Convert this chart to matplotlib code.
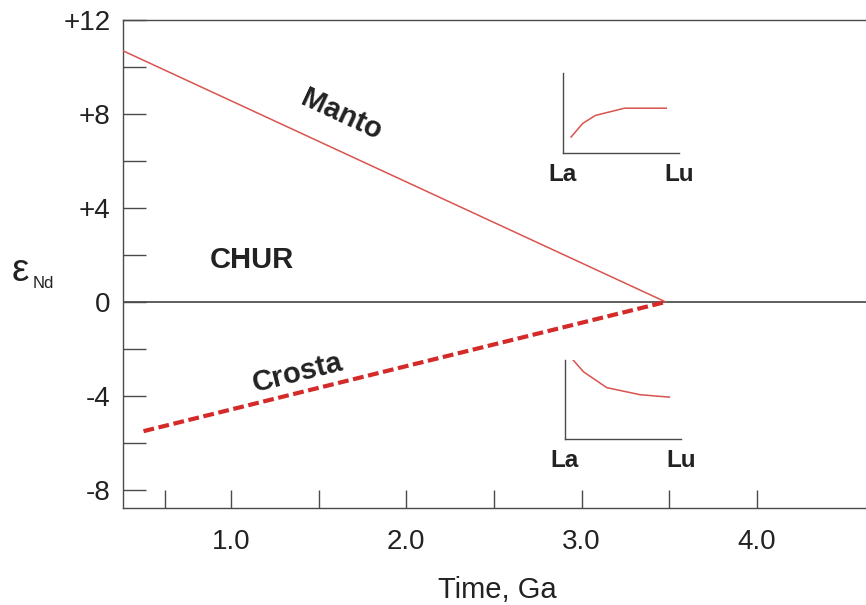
import matplotlib
matplotlib.use("Agg")
import matplotlib.pyplot as plt

plt.rcParams['font.family'] = ['Liberation Sans', 'DejaVu Sans']

# ---- data ----
mantle_t = [0.38, 3.48]
mantle_eps = [10.7, 0.0]
crust_t = [0.5, 3.48]
crust_eps = [-5.5, 0.0]

x_major = [1.0, 2.0, 3.0, 4.0]
x_major_labels = ["1.0", "2.0", "3.0", "4.0"]
x_minor = [0.62, 1.5, 2.5, 3.5]
y_major = [-8, -4, 0, 4, 8, 12]
y_major_labels = ["-8", "-4", "0", "+4", "+8", "+12"]
y_minor = [-6, -2, 2, 6, 10]

# REE pattern sketches (normalised La -> Lu)
ree_x_top = [0.07, 0.17, 0.28, 0.53, 0.89]
ree_y_top = [0.20, 0.37, 0.47, 0.56, 0.56]
ree_x_bot = [0.07, 0.16, 0.36, 0.65, 0.90]
ree_y_bot = [1.00, 0.85, 0.65, 0.56, 0.53]
ree_labels = ["La", "Lu"]

TXT = "#222222"
AX = "#4a4a4a"

fig = plt.figure(figsize=(8.66, 6.05), dpi=100)
ax = fig.add_axes([123/866, 97/605, 1 - 123/866, (585-97)/605])
ax.set_xlim(0.383, 4.623)
ax.set_ylim(-8.77, 12)

for s in ['left', 'top', 'bottom']:
    ax.spines[s].set_color(AX)
    ax.spines[s].set_linewidth(1.0)
ax.spines['right'].set_visible(False)

ax.set_xticks(x_major)
ax.set_xticklabels(x_major_labels)
ax.set_xticks(x_minor, minor=True)
ax.set_yticks(y_major)
ax.set_yticklabels(y_major_labels)
ax.set_yticks(y_minor, minor=True)

ax.tick_params(axis='x', which='both', direction='in', length=13, width=1.0,
               color=AX, labelsize=20, labelcolor=TXT, pad=15)
ax.tick_params(axis='y', which='both', direction='in', length=16.5, width=1.0,
               color=AX, labelsize=20, labelcolor=TXT, pad=9)

ax.axhline(0, color="#333333", lw=1.1, zorder=1)

ax.plot(mantle_t, mantle_eps, color="#d9534f", lw=1.1, zorder=3, solid_capstyle='butt')
ax.plot(crust_t, crust_eps, color="#d42a2a", lw=3.0, dashes=(2.6, 1.1), zorder=3)

ax.text(1.63, 7.96, "Manto", rotation=-25, ha='center', va='center',
        fontsize=21, fontweight='bold', color=TXT)
ax.text(1.12, 1.79, "CHUR", ha='center', va='center',
        fontsize=21, fontweight='bold', color=TXT)
ax.text(1.377, -3.02, "Crosta", rotation=14, ha='center', va='center',
        fontsize=21, fontweight='bold', color=TXT)

# y label epsilon_Nd
fig.text(12/866, 1 - 271/605, "\u03b5", fontsize=28, color=TXT, ha='left', va='center')
fig.text(33/866, 1 - 284/605, "Nd", fontsize=12, color=TXT, ha='left', va='center')

# x label
fig.text(497/866, 1/605, "Time, Ga", fontsize=21, color=TXT, ha='center', va='bottom')

def inset(rect, xs, ys):
    a = fig.add_axes(rect)
    a.set_xlim(0, 1)
    a.set_ylim(0, 1)
    a.patch.set_alpha(0)
    for s in ['top', 'right']:
        a.spines[s].set_visible(False)
    for s in ['left', 'bottom']:
        a.spines[s].set_color(AX)
        a.spines[s].set_linewidth(1.0)
    a.set_yticks([])
    a.set_xticks([0, 1])
    a.set_xticklabels(ree_labels, fontweight='bold')
    a.tick_params(axis='x', length=0, labelsize=17.5, labelcolor=TXT, pad=7)
    a.plot(xs, ys, color="#d9534f", lw=1.1)
    return a

inset([563/866, 1 - 153/605, 116/866, 80/605], ree_x_top, ree_y_top)
inset([565/866, 1 - 439/605, 116/866, 79/605], ree_x_bot, ree_y_bot)

fig.savefig("out.png", dpi=100)
